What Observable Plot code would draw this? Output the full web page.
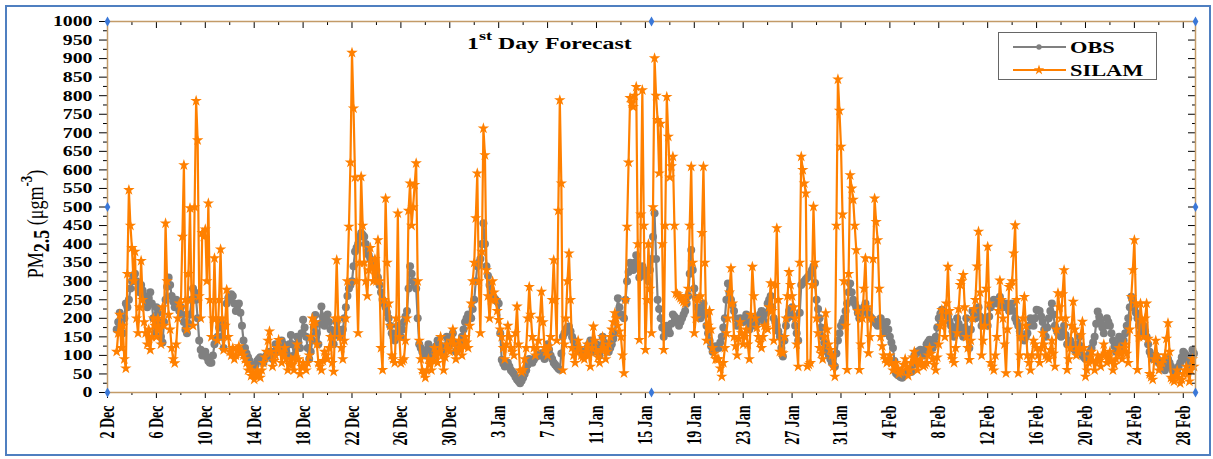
<!DOCTYPE html>
<html>
<head>
<meta charset="utf-8">
<script src="https://cdn.jsdelivr.net/npm/d3@7"></script>
<script src="https://cdn.jsdelivr.net/npm/@observablehq/plot@0.6"></script>
<style>
  html, body { margin: 0; padding: 0; background: #fff; }
  #wrap { position: relative; width: 1213px; height: 459px; overflow: hidden; background: #fff; }
  #wrap svg { position: absolute; left: 0; top: 0; max-width: none; }
  #border { position: absolute; left: 5px; top: 5px; width: 1206px; height: 451px; box-sizing: border-box;
            border: 2px solid #4f7fc0; pointer-events: none; z-index: 2; }
</style>
</head>
<body>
<div id="wrap"><div id="border"></div></div>
<script>
// PM2.5 (µg m-3), 3-hourly values starting 2 Dec 18:00 (UTC), one row per day.
const startTime = Date.UTC(2018, 11, 2, 18);
const stepHours = 3;

const obs = [
  170, 190,                                   // 2 Dec
  215, 185, 160, 200, 240, 230, 250, 280,     // 3 Dec
  300, 315, 320, 300, 280, 270, 290, 275,
  260, 245, 230, 255, 270, 240, 200, 160,
  230, 215, 190, 150, 135, 190, 250, 285,     // 6 Dec
  310, 290, 260, 245, 230, 250, 240, 220,
  230, 210, 190, 170, 160, 185, 210, 250,
  280, 270, 250, 200, 140, 115, 100, 105,
  110, 95, 85, 80, 80, 100, 130, 145,         // 10 Dec
  150, 175, 190, 150, 120, 180, 240, 255,
  250, 265, 260, 240, 220, 235, 240, 215,
  180, 140, 120, 105, 95, 85, 75, 70,
  70, 75, 85, 90, 95, 90, 80, 90,             // 14 Dec
  100, 105, 110, 100, 90, 110, 130, 120,
  110, 125, 140, 130, 120, 110, 100, 130,
  155, 130, 100, 125, 150, 135, 120, 160,
  196, 175, 150, 120, 90, 110, 140, 175,      // 18 Dec
  209, 160, 130, 185, 232, 205, 180, 195,
  210, 190, 170, 150, 130, 160, 190, 170,
  150, 160, 170, 200, 230, 260, 280, 290,
  300, 340, 380, 390, 400, 420, 430, 425,     // 22 Dec
  420, 400, 380, 370, 360, 350, 340, 335,
  330, 310, 290, 270, 250, 240, 230, 215,
  200, 180, 160, 150, 140, 160, 180, 165,
  150, 170, 190, 205, 220, 280, 340, 320,     // 26 Dec
  300, 290, 280, 200, 130, 120, 110, 105,
  100, 115, 130, 110, 90, 100, 110, 125,
  140, 130, 120, 110, 100, 125, 150, 140,
  130, 145, 160, 135, 110, 115, 120, 135,     // 30 Dec
  150, 170, 190, 200, 210, 205, 200, 225,
  250, 300, 340, 350, 360, 400, 456, 400,
  340, 315, 290, 275, 260, 255, 250, 245,
  240, 160, 88, 78, 70, 75, 80, 70,           // 3 Jan
  60, 55, 50, 42, 35, 30, 25, 32,
  40, 50, 60, 75, 90, 85, 80, 88,
  95, 98, 100, 103, 106, 98, 90, 110,
  130, 115, 100, 90, 80, 75, 70, 65,          // 7 Jan
  61, 105, 150, 160, 170, 175, 178, 165,
  150, 140, 130, 125, 120, 115, 110, 105,
  100, 110, 120, 130, 140, 125, 110, 120,
  130, 115, 100, 125, 150, 135, 120, 115,     // 11 Jan
  110, 120, 130, 145, 160, 210, 254, 230,
  210, 205, 200, 250, 300, 325, 350, 340,
  330, 350, 370, 340, 310, 325, 340, 330,
  320, 310, 300, 330, 360, 420, 483, 360,     // 15 Jan
  250, 225, 200, 175, 150, 165, 180, 170,
  160, 185, 210, 205, 200, 190, 180, 190,
  200, 210, 220, 240, 260, 320, 384, 330,
  280, 255, 230, 215, 200, 220, 240, 210,     // 19 Jan
  180, 160, 140, 125, 110, 118, 125, 122,
  120, 135, 150, 175, 200, 250, 294, 270,
  250, 235, 220, 200, 180, 190, 200, 195,
  190, 200, 210, 190, 170, 185, 200, 190,     // 23 Jan
  180, 190, 200, 210, 220, 205, 190, 215,
  240, 250, 260, 230, 200, 190, 180, 165,
  150, 120, 97, 140, 180, 200, 220, 225,
  230, 205, 180, 160, 140, 215, 290, 295,     // 27 Jan
  300, 305, 310, 315, 320, 330, 340, 295,
  250, 225, 200, 175, 150, 135, 120, 110,
  100, 90, 80, 75, 70, 105, 140, 160,
  180, 190, 200, 220, 240, 270, 294, 270,     // 31 Jan
  250, 240, 230, 215, 200, 210, 220, 230,
  240, 225, 210, 205, 200, 195, 190, 185,
  180, 190, 200, 180, 160, 175, 190, 170,
  150, 135, 120, 85, 52, 48, 45, 42,          // 4 Feb
  40, 45, 50, 55, 60, 58, 55, 75,
  100, 105, 110, 112, 115, 108, 100, 115,
  130, 136, 142, 130, 120, 135, 150, 175,
  200, 212, 223, 216, 210, 208, 205, 192,     // 8 Feb
  180, 165, 150, 175, 200, 185, 170, 160,
  150, 175, 200, 160, 120, 170, 220, 210,
  200, 215, 230, 205, 180, 190, 200, 190,
  180, 205, 230, 240, 250, 245, 240, 250,     // 12 Feb
  258, 245, 230, 235, 240, 230, 220, 230,
  240, 220, 200, 190, 180, 165, 150, 145,
  140, 150, 160, 180, 200, 190, 180, 200,
  223, 222, 220, 205, 190, 170, 150, 175,     // 16 Feb
  200, 220, 240, 210, 180, 170, 160, 155,
  150, 165, 180, 155, 130, 135, 140, 130,
  120, 115, 110, 130, 150, 125, 100, 95,
  90, 95, 100, 110, 120, 135, 150, 185,       // 20 Feb
  218, 205, 190, 175, 160, 180, 200, 190,
  180, 160, 140, 125, 110, 130, 150, 135,
  120, 140, 160, 180, 200, 230, 258, 245,
  230, 215, 200, 180, 160, 170, 180, 165,     // 24 Feb
  150, 130, 110, 100, 90, 95, 100, 90,
  80, 75, 70, 65, 60, 75, 90, 80,
  70, 60, 50, 55, 60, 70, 80, 95,
  110, 105, 100, 85, 70, 92, 115, 105         // 28 Feb
];

const silam = [
  110, 160,                                   // 2 Dec
  210, 120, 180, 90, 65, 320, 546, 450,       // 3 Dec
  390, 300, 380, 200, 160, 230, 355, 250,
  190, 160, 130, 170, 115, 150, 200, 180,
  150, 200, 170, 130, 230, 180, 456, 300,     // 6 Dec
  210, 170, 120, 90, 79, 130, 200, 240,
  230, 420, 613, 250, 170, 320, 497, 250,
  180, 500, 786, 680, 260, 200, 430, 420,
  440, 300, 510, 250, 150, 200, 362, 200,     // 10 Dec
  140, 250, 386, 200, 115, 180, 277, 150,
  110, 100, 120, 90, 100, 115, 125, 105,
  110, 100, 90, 80, 60, 70, 45, 55,
  35, 45, 60, 50, 40, 60, 80, 95,             // 14 Dec
  110, 140, 165, 110, 70, 85, 100, 120,
  142, 110, 80, 100, 120, 90, 60, 75,
  90, 75, 60, 95, 130, 90, 50, 70,
  80, 70, 60, 80, 100, 150, 200, 180,         // 18 Dec
  190, 130, 80, 70, 60, 85, 110, 100,
  90, 120, 150, 80, 56, 200, 357, 200,
  150, 120, 90, 140, 200, 300, 447, 620,
  916, 766, 580, 300, 160, 350, 582, 450,     // 22 Dec
  350, 300, 260, 330, 390, 340, 300, 360,
  300, 411, 300, 120, 61, 250, 523, 350,
  240, 180, 100, 90, 80, 200, 483, 150,
  79, 85, 90, 140, 200, 490, 564, 450,        // 26 Dec
  500, 560, 618, 300, 140, 90, 60, 50,
  40, 60, 90, 75, 60, 85, 120, 100,
  80, 110, 150, 100, 60, 95, 130, 115,
  110, 140, 170, 130, 90, 110, 140, 120,      // 30 Dec
  100, 125, 150, 135, 120, 180, 240, 300,
  350, 470, 591, 300, 160, 380, 712, 640,
  330, 260, 200, 250, 300, 270, 250, 220,
  196, 170, 150, 120, 90, 130, 180, 150,      // 3 Jan
  120, 110, 100, 160, 232, 130, 60, 55,
  61, 90, 120, 200, 285, 210, 150, 120,
  100, 120, 140, 200, 272, 190, 120, 110,
  100, 125, 150, 250, 357, 250, 140, 490,     // 7 Jan
  788, 564, 60, 130, 200, 300, 375, 250,
  120, 100, 80, 110, 140, 120, 100, 95,
  90, 110, 130, 100, 70, 120, 178, 140,
  110, 95, 80, 115, 150, 120, 90, 110,        // 11 Jan
  130, 150, 170, 190, 214, 200, 180, 165,
  150, 100, 52, 250, 447, 620, 794, 780,
  770, 800, 824, 400, 142, 480, 815, 450,
  115, 250, 400, 280, 160, 500, 901, 800,     // 15 Jan
  735, 591, 725, 400, 115, 450, 797, 690,
  580, 610, 636, 450, 268, 265, 260, 255,
  250, 245, 240, 260, 280, 450, 609, 350,
  160, 200, 250, 255, 260, 430, 609, 350,     // 19 Jan
  140, 180, 220, 170, 120, 105, 90, 90,
  90, 65, 43, 80, 120, 160, 200, 270,
  335, 240, 150, 125, 100, 145, 190, 160,
  130, 150, 170, 130, 90, 210, 339, 260,      // 23 Jan
  200, 175, 150, 135, 120, 150, 180, 175,
  170, 230, 295, 220, 140, 290, 443, 250,
  110, 108, 106, 150, 200, 260, 325, 290,
  260, 230, 200, 130, 70, 350, 636, 600,      // 27 Jan
  564, 537, 70, 75, 80, 290, 501, 350,
  200, 160, 120, 105, 90, 150, 214, 170,
  130, 115, 100, 70, 43, 450, 844, 760,
  663, 480, 300, 180, 61, 320, 586, 550,      // 31 Jan
  520, 450, 384, 220, 61, 130, 200, 280,
  362, 230, 106, 150, 200, 360, 523, 460,
  411, 280, 150, 125, 100, 90, 80, 90,
  100, 80, 60, 70, 80, 65, 50, 55,            // 4 Feb
  60, 75, 90, 70, 45, 60, 80, 95,
  110, 85, 60, 75, 90, 80, 70, 75,
  80, 100, 120, 105, 90, 75, 60, 95,
  130, 180, 223, 190, 150, 240, 339, 220,     // 8 Feb
  100, 90, 80, 120, 160, 225, 290, 300,
  317, 230, 150, 120, 88, 140, 200, 225,
  250, 340, 434, 270, 100, 140, 180, 280,
  393, 240, 80, 70, 60, 100, 150, 220,        // 12 Feb
  302, 250, 200, 130, 52, 170, 285, 290,
  300, 375, 451, 250, 52, 100, 150, 200,
  258, 180, 100, 80, 60, 100, 140, 130,
  120, 100, 80, 120, 160, 130, 100, 95,       // 16 Feb
  90, 115, 140, 105, 70, 170, 268, 230,
  200, 265, 330, 200, 61, 90, 120, 180,
  245, 170, 100, 110, 120, 155, 191, 120,
  43, 60, 80, 95, 110, 85, 60, 80,            // 20 Feb
  100, 85, 70, 100, 130, 105, 80, 95,
  110, 85, 60, 75, 90, 105, 120, 105,
  90, 110, 130, 105, 80, 170, 258, 330,
  411, 240, 61, 150, 240, 195, 150, 200,      // 24 Feb
  240, 145, 50, 42, 35, 90, 140, 100,
  60, 70, 80, 90, 100, 145, 187, 110,
  40, 35, 30, 45, 60, 40, 25, 35,
  50, 60, 70, 50, 30, 60, 90, 70              // 28 Feb
];

const seriesNames = ["OBS", "SILAM"];
const seriesColors = ["#808080", "#ff8000"];

// Labelled dates on the time axis (every fourth day)
const tickDays = [
  "2018-12-02", "2018-12-06", "2018-12-10", "2018-12-14", "2018-12-18", "2018-12-22",
  "2018-12-26", "2018-12-30", "2019-01-03", "2019-01-07", "2019-01-11", "2019-01-15",
  "2019-01-19", "2019-01-23", "2019-01-27", "2019-01-31", "2019-02-04", "2019-02-08",
  "2019-02-12", "2019-02-16", "2019-02-20", "2019-02-24", "2019-02-28"
];
const yTicks = d3.range(0, 1001, 50);
const yMinorTicks = d3.range(25, 1000, 50);

const DAY = 86400000;
const toRows = (vals) => vals.map((v, i) => ({date: new Date(startTime + i * stepHours * 3600000), value: v}));
const obsRows = toRows(obs);
const silamRows = toRows(silam);

const xDomain = [new Date(Date.UTC(2018, 11, 2)), new Date(Date.UTC(2019, 2, 1))];
const yDomain = [0, 1000];
const majorX = tickDays.map((s) => new Date(s + "T00:00:00Z"));
const minorX = majorX.map((d) => new Date(+d + 2 * DAY)).filter((d) => d < xDomain[1]);

// Small selection handles at the corners and edge midpoints of the frame
const xMid = new Date((+xDomain[0] + +xDomain[1]) / 2);
const yMid = (yDomain[0] + yDomain[1]) / 2;
const handles = [
  [xDomain[0], yDomain[0]], [xMid, yDomain[0]], [xDomain[1], yDomain[0]],
  [xDomain[0], yMid], [xDomain[1], yMid],
  [xDomain[0], yDomain[1]], [xMid, yDomain[1]], [xDomain[1], yDomain[1]]
];

const serif = "'Liberation Serif', 'Times New Roman', serif";
const blank = () => "";

const chart = Plot.plot({
  width: 1213,
  height: 459,
  marginLeft: 107,
  marginRight: 18,
  marginTop: 21,
  marginBottom: 67,
  style: {background: "transparent", fontFamily: serif, fontSize: "15px", fontWeight: "bold", color: "#000", overflow: "visible"},
  x: {type: "utc", domain: xDomain, label: null},
  y: {domain: yDomain, label: null},
  marks: [
    Plot.line(obsRows, {x: "date", y: "value", stroke: seriesColors[0], strokeWidth: 2.2}),
    Plot.dot(obsRows, {x: "date", y: "value", r: 4, fill: seriesColors[0]}),
    Plot.line(silamRows, {x: "date", y: "value", stroke: seriesColors[1], strokeWidth: 2.2}),
    Plot.dot(silamRows, {x: "date", y: "value", symbol: "star", r: 3.6, fill: seriesColors[1]}),

    Plot.axisY(yTicks, {tickSize: 8, tickPadding: 7, tickFormat: d3.format("d"), label: null}),
    Plot.axisY(yMinorTicks, {tickSize: 4, tickFormat: blank, label: null}),
    Plot.axisY(yTicks, {anchor: "right", tickSize: 8, dx: -8, tickFormat: blank, label: null}),
    Plot.axisY(yMinorTicks, {anchor: "right", tickSize: 4, dx: -4, tickFormat: blank, label: null}),
    Plot.axisX(majorX, {tickSize: 6, tickPadding: 7, tickRotate: -90, fontSize: 14, tickFormat: d3.utcFormat("%-d %b"), label: null}),
    Plot.axisX(minorX, {tickSize: 3, tickFormat: blank, label: null}),
    Plot.axisX(majorX, {anchor: "top", tickSize: 6, dy: 6, tickFormat: blank, label: null}),
    Plot.axisX(minorX, {anchor: "top", tickSize: 3, dy: 3, tickFormat: blank, label: null}),

    Plot.frame({stroke: "#c39b68", strokeWidth: 1.5}),
    Plot.dot(handles, {x: (d) => d[0], y: (d) => d[1], symbol: "diamond", r: 3, fill: "#3b78d8"})
  ]
});

document.getElementById("wrap").appendChild(chart);
const svg = d3.select(chart);

// Wide, stretched lettering of the axis labels
function stretch(sel, sx, sy) {
  sel.each(function () {
    const t = this.getAttribute("transform");
    if (t) {
      this.setAttribute("transform", `${t} scale(${sx},${sy})`);
    } else {
      const x = +this.getAttribute("x") || 0, y = +this.getAttribute("y") || 0;
      this.removeAttribute("x");
      this.removeAttribute("y");
      this.setAttribute("transform", `translate(${x},${y}) scale(${sx},${sy})`);
    }
  });
}
stretch(svg.selectAll('g[aria-label="y-axis tick label"] text'), 1.32, 1);
stretch(svg.selectAll('g[aria-label="x-axis tick label"] text'), 1, 1.45);

// Title with superscript
const title = svg.append("text")
  .attr("transform", "translate(467,49) scale(1.4,1)")
  .attr("text-anchor", "start")
  .attr("font-family", serif).attr("font-weight", "bold").attr("font-size", 17).attr("fill", "#000");
title.append("tspan").text("1");
title.append("tspan").attr("font-size", 13).attr("dy", -9).text("st");
title.append("tspan").attr("dy", 9).text(" Day Forecast");

// Y-axis title: PM2.5 (µgm-3)
const ylab = svg.append("text")
  .attr("transform", "translate(43,224) rotate(-90) scale(1,1.25)")
  .attr("text-anchor", "middle")
  .attr("font-family", serif).attr("font-weight", "normal").attr("font-size", 18).attr("fill", "#000");
ylab.append("tspan").text("PM");
ylab.append("tspan").attr("font-weight", "bold").attr("dy", 5).text("2.5");
ylab.append("tspan").attr("dy", -5).text(" (\u03bcgm");
ylab.append("tspan").attr("font-weight", "bold").attr("font-size", 13).attr("dy", -9).text("-3");
ylab.append("tspan").attr("dy", 9).text(")");

// Legend
const legend = svg.append("g").attr("font-family", serif).attr("font-weight", "bold").attr("font-size", 16);
legend.append("rect").attr("x", 998.5).attr("y", 32.5).attr("width", 158).attr("height", 47)
  .attr("fill", "#fff").attr("stroke", "#666").attr("stroke-width", 1);
seriesNames.forEach((name, i) => {
  const cy = 47 + i * 23;
  const color = seriesColors[i];
  legend.append("line").attr("x1", 1013).attr("x2", 1066).attr("y1", cy).attr("y2", cy)
    .attr("stroke", color).attr("stroke-width", 2);
  legend.append("path")
    .attr("transform", `translate(1039,${cy})`)
    .attr("d", d3.symbol(i === 0 ? d3.symbolCircle : d3.symbolStar, i === 0 ? 22 : 34)())
    .attr("fill", color);
  legend.append("text")
    .attr("transform", `translate(1070,${cy + 5.5}) scale(1.4,1)`)
    .attr("text-anchor", "start")
    .attr("fill", "#000").text(name);
});
</script>
</body>
</html>
